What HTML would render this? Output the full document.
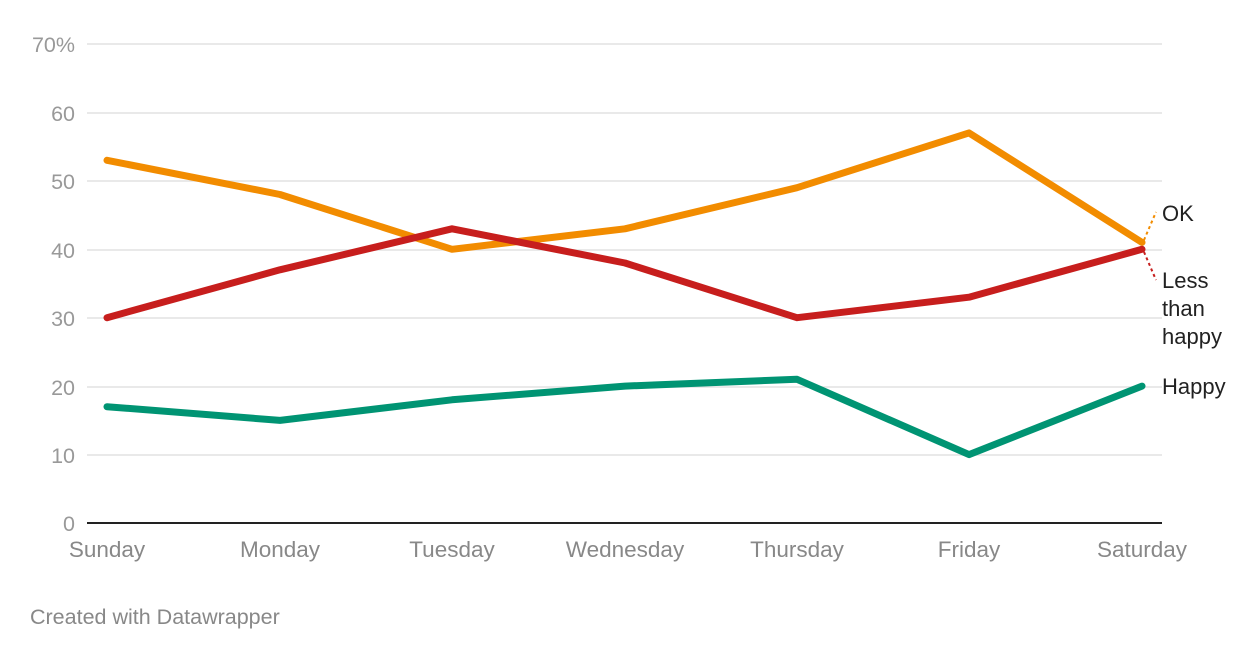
<!DOCTYPE html>
<html><head><meta charset="utf-8"><style>
html,body{margin:0;padding:0;background:#fff;}
svg text{font-family:"Liberation Sans",sans-serif;}
</style></head><body>
<svg width="1260" height="660" viewBox="0 0 1260 660" xmlns="http://www.w3.org/2000/svg">
<g stroke="#e2e2e2" stroke-width="1.5">
<line x1="87" x2="1162" y1="44" y2="44"/>
<line x1="87" x2="1162" y1="113" y2="113"/>
<line x1="87" x2="1162" y1="181" y2="181"/>
<line x1="87" x2="1162" y1="250" y2="250"/>
<line x1="87" x2="1162" y1="318" y2="318"/>
<line x1="87" x2="1162" y1="387" y2="387"/>
<line x1="87" x2="1162" y1="455" y2="455"/>
</g>
<line x1="87" x2="1162" y1="523" y2="523" stroke="#222" stroke-width="2"/>
<g fill="#999" font-size="21.5" text-anchor="end">
<text x="75" y="52">70%</text>
<text x="75" y="121">60</text>
<text x="75" y="189">50</text>
<text x="75" y="258">40</text>
<text x="75" y="326">30</text>
<text x="75" y="395">20</text>
<text x="75" y="463">10</text>
<text x="75" y="531">0</text>
</g>
<g fill="#888" font-size="22.5" text-anchor="middle">
<text x="107" y="557">Sunday</text>
<text x="280" y="557">Monday</text>
<text x="452" y="557">Tuesday</text>
<text x="625" y="557">Wednesday</text>
<text x="797" y="557">Thursday</text>
<text x="969" y="557">Friday</text>
<text x="1142" y="557">Saturday</text>
</g>
<g fill="none" stroke-width="7" stroke-linejoin="round" stroke-linecap="round">
<polyline stroke="#009473" points="107,406.7 280,420.4 452,399.8 625,386.1 797,379.3 969,454.6 1142,386.1"/>
<polyline stroke="#f28c00" points="107,160.3 280,194.5 452,249.3 625,228.8 797,187.7 969,132.9 1142,242.4"/>
<polyline stroke="#c71e1d" points="107,317.7 280,269.8 452,228.8 625,263 797,317.7 969,297.2 1142,249.3"/>
</g>
<line x1="1144" y1="240" x2="1156" y2="212" stroke="#f28c00" stroke-width="2" stroke-dasharray="3,3"/>
<line x1="1144" y1="252" x2="1156" y2="280" stroke="#c71e1d" stroke-width="2" stroke-dasharray="3,3"/>
<g fill="#222" font-size="22">
<text x="1162" y="221">OK</text>
<text x="1162" y="288">Less</text>
<text x="1162" y="316">than</text>
<text x="1162" y="344">happy</text>
<text x="1162" y="394">Happy</text>
</g>
<text x="30" y="624" fill="#888" font-size="21.5">Created with Datawrapper</text>
</svg>
</body></html>
